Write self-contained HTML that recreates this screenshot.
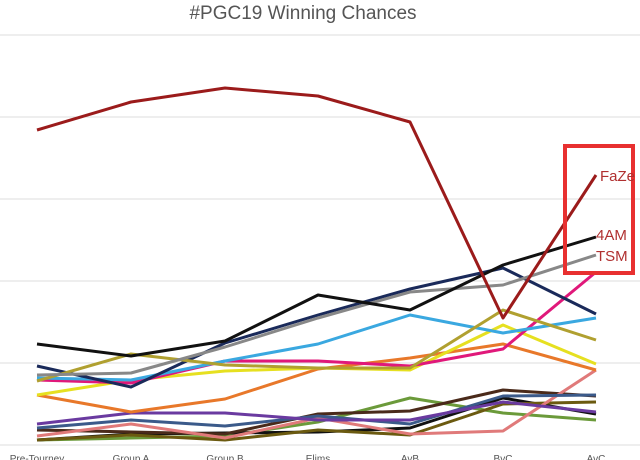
<!DOCTYPE html>
<html><head><style>body{margin:0;background:#fff}svg{display:block}</style></head><body>
<svg width="640" height="460" xmlns="http://www.w3.org/2000/svg" font-family="Liberation Sans, sans-serif">
<rect width="640" height="460" fill="#fff"/>
<text x="303" y="19" font-size="19" fill="#555" text-anchor="middle">#PGC19 Winning Chances</text>
<g stroke="#ddd" stroke-width="1">
<line x1="0" y1="35" x2="640" y2="35"/><line x1="0" y1="117" x2="640" y2="117"/><line x1="0" y1="199" x2="640" y2="199"/><line x1="0" y1="281" x2="640" y2="281"/><line x1="0" y1="363" x2="640" y2="363"/><line x1="0" y1="445" x2="640" y2="445"/>
</g>
<g fill="none" stroke-width="3" stroke-linejoin="round">
<polyline stroke="#6b9a3a" points="37,440 131,438 225,436 318,422 410,398 503,413 596,420"/>
<polyline stroke="#111" points="37,440 131,434 225,433 318,432 410,428 503,398 596,414"/>
<polyline stroke="#6b5a10" points="37,440 131,435 225,440 318,430 410,435 503,404 596,402"/>
<polyline stroke="#4a2a1a" points="37,430 131,432 225,434 318,414 410,411 503,390 596,396"/>
<polyline stroke="#e07a7a" points="37,436 131,424 225,438 318,418 410,434 503,431 596,370"/>
<polyline stroke="#3b5a8a" points="37,428 131,420 225,426 318,416 410,424 503,396 596,395"/>
<polyline stroke="#6a3aa0" points="37,424 131,413 225,413 318,420 410,420 503,402 596,412"/>
<polyline stroke="#e8782a" points="37,395 131,412 225,399 318,369 410,358 503,344 596,370"/>
<polyline stroke="#e6e020" points="37,395 131,380 225,371 318,368 410,370 503,325 596,364"/>
<polyline stroke="#e0187a" points="37,380 131,383 225,361 318,361 410,366 503,349 596,272"/>
<polyline stroke="#3aa8e0" points="37,378 131,380 225,361 318,344 410,315 503,333 596,318"/>
<polyline stroke="#1a2a5a" points="37,366 131,387 225,343 318,315 410,289 503,268 596,314"/>
<polyline stroke="#b0a030" points="37,381 131,354 225,365 318,368 410,368 503,310 596,340"/>
<polyline stroke="#888" points="37,375 131,373 225,347 318,318 410,292 503,285 596,255"/>
<polyline stroke="#111" points="37,344 131,356 225,341 318,295 410,310 503,265 596,237"/>
<polyline stroke="#9b1b1b" points="37,130 131,102 225,88 318,96 410,122 503,318 596,175"/>
</g>
<rect x="565" y="146" width="68" height="127" fill="none" stroke="#e83030" stroke-width="4"/>
<g fill="#b03030" font-size="15">
<text x="600" y="181">FaZe</text><text x="596" y="240">4AM</text><text x="596" y="261">TSM</text>
</g>
<g font-size="10" fill="#555" text-anchor="middle">
<text x="37" y="462">Pre-Tourney</text><text x="131" y="462">Group A</text><text x="225" y="462">Group B</text><text x="318" y="462">Elims</text><text x="410" y="462">AvB</text><text x="503" y="462">BvC</text><text x="596" y="462">AvC</text>
</g>
</svg>
</body></html>
